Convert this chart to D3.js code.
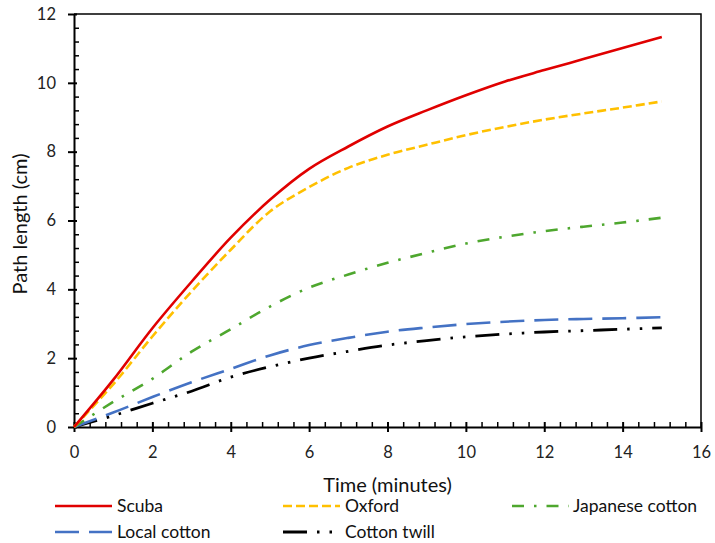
<!DOCTYPE html>
<html>
<head>
<meta charset="utf-8">
<script src="https://cdn.jsdelivr.net/npm/d3@7.9.0/dist/d3.min.js"></script>
<style>
  body { margin: 0; background: #fff; }
  svg { display: block; font-family: Lato, "Open Sans", sans-serif; }
</style>
</head>
<body>
<svg id="chart" width="715" height="543"></svg>
<script>
// time in minutes
const timeMin = [0, 1, 2, 3, 4, 5, 6, 7, 8, 9, 10, 11, 12, 13, 14, 15];

// path length (cm) per fabric
const scuba        = [0, 1.37, 2.87, 4.22, 5.5, 6.6, 7.5, 8.15, 8.73, 9.2, 9.64, 10.04, 10.37, 10.69, 11.01, 11.33];
const oxford       = [0, 1.24, 2.63, 3.94, 5.15, 6.26, 6.97, 7.53, 7.91, 8.2, 8.48, 8.72, 8.93, 9.11, 9.28, 9.46];
const japanese     = [0, 0.73, 1.4, 2.19, 2.84, 3.5, 4.05, 4.43, 4.77, 5.06, 5.33, 5.53, 5.69, 5.82, 5.94, 6.08];
const localCotton  = [0, 0.42, 0.87, 1.3, 1.69, 2.08, 2.38, 2.59, 2.77, 2.89, 2.99, 3.06, 3.11, 3.14, 3.16, 3.19];
const cottonTwill  = [0, 0.33, 0.69, 1.04, 1.45, 1.75, 2.0, 2.2, 2.38, 2.51, 2.62, 2.7, 2.76, 2.8, 2.84, 2.88];

const seriesNames = ['Scuba', 'Oxford', 'Japanese cotton', 'Local cotton', 'Cotton twill'];
const seriesValues = [scuba, oxford, japanese, localCotton, cottonTwill];

const xTicks = [0, 2, 4, 6, 8, 10, 12, 14, 16];
const yTicks = [0, 2, 4, 6, 8, 10, 12];

// look of each series
const styles = {
    'Scuba':           { color: '#e00000', dash: null,                  width: 2.6 },
    'Oxford':          { color: '#ffc000', dash: '9,4',                 width: 2.6 },
    'Japanese cotton': { color: '#4ea72e', dash: '12,10,2.5,10',        width: 2.6 },
    'Local cotton':    { color: '#4472c4', dash: '24,10',               width: 2.6 },
    'Cotton twill':    { color: '#000000', dash: '24,10,2.5,10,2.5,10', width: 2.8 },
};

const svg = d3.select('#chart');

const x = d3.scaleLinear().domain([0, 16]).range([74, 701]);
const y = d3.scaleLinear().domain([0, 12]).range([427, 14]);

// frame (top + right)
svg.append('path')
    .attr('d', `M${x(0)},${y(12)}H${x(16)}V${y(0)}`)
    .attr('fill', 'none')
    .attr('stroke', '#000')
    .attr('stroke-width', 1.5);

// minor ticks every 0.4
const minorX = d3.range(0, 16.01, 0.4).filter(v => Math.abs(v / 2 - Math.round(v / 2)) > 1e-6);
const minorY = d3.range(0, 12.01, 0.4).filter(v => Math.abs(v / 2 - Math.round(v / 2)) > 1e-6);

svg.append('g')
    .attr('transform', `translate(0,${y(0)})`)
    .call(d3.axisBottom(x).tickValues(minorX).tickSize(-5).tickFormat(''))
    .call(g => g.select('.domain').remove())
    .selectAll('line').attr('stroke', '#000').attr('stroke-width', 1.5);

svg.append('g')
    .attr('transform', `translate(${x(0)},0)`)
    .call(d3.axisLeft(y).tickValues(minorY).tickSize(-5).tickFormat(''))
    .call(g => g.select('.domain').remove())
    .selectAll('line').attr('stroke', '#000').attr('stroke-width', 1.5);

// major axes
const xAxis = svg.append('g')
    .attr('transform', `translate(0,${y(0)})`)
    .call(d3.axisBottom(x).tickValues(xTicks).tickSize(5).tickPadding(14).tickSizeOuter(0));
xAxis.selectAll('.tick line').attr('y1', -5).attr('stroke-width', 2);
xAxis.select('.domain').attr('stroke-width', 2);
xAxis.selectAll('text').attr('font-size', 16.5).attr('fill', '#222')
    .attr('font-family', 'Lato, sans-serif');

const yAxis = svg.append('g')
    .attr('transform', `translate(${x(0)},0)`)
    .call(d3.axisLeft(y).tickValues(yTicks).tickSize(6).tickPadding(12).tickSizeOuter(0));
yAxis.selectAll('.tick line').attr('x1', 3).attr('stroke-width', 2);
yAxis.select('.domain').attr('stroke-width', 2);
yAxis.selectAll('text').attr('font-size', 16.5).attr('fill', '#222')
    .attr('font-family', 'Lato, sans-serif');

// axis titles
svg.append('text')
    .attr('x', (x(0) + x(16)) / 2)
    .attr('y', 492)
    .attr('text-anchor', 'middle')
    .attr('font-size', 20)
    .attr('fill', '#111')
    .text('Time (minutes)');

svg.append('text')
    .attr('transform', `translate(20,224) rotate(-90)`)
    .attr('text-anchor', 'middle')
    .attr('dy', '0.35em')
    .attr('font-size', 20)
    .attr('fill', '#111')
    .text('Path length (cm)');

// series lines
const line = d3.line()
    .x((d, i) => x(timeMin[i]))
    .y(d => y(d))
    .curve(d3.curveCatmullRom.alpha(0.5));

// draw bottom series first so red ends on top
const order = [4, 3, 2, 1, 0];
svg.append('g')
    .selectAll('path')
    .data(order)
    .join('path')
    .attr('d', i => line(seriesValues[i]))
    .attr('fill', 'none')
    .attr('stroke', i => styles[seriesNames[i]].color)
    .attr('stroke-width', i => styles[seriesNames[i]].width)
    .attr('stroke-dasharray', i => styles[seriesNames[i]].dash)
    .attr('stroke-linejoin', 'round');

// legend
const legendPos = [
    { lx: 55, ly: 506 },
    { lx: 283, ly: 506 },
    { lx: 512, ly: 506 },
    { lx: 55, ly: 532 },
    { lx: 283, ly: 532 },
];

const legend = svg.append('g')
    .selectAll('g')
    .data(seriesNames)
    .join('g')
    .attr('transform', (d, i) => `translate(${legendPos[i].lx},${legendPos[i].ly})`);

legend.append('line')
    .attr('x1', 0).attr('x2', 57)
    .attr('stroke', d => styles[d].color)
    .attr('stroke-width', d => styles[d].width)
    .attr('stroke-dasharray', d => styles[d].dash);

legend.append('text')
    .attr('x', (d, i) => i === 2 ? 61 : 62)
    .attr('dy', '0.35em')
    .attr('font-size', 17.5)
    .attr('fill', '#111')
    .text(d => d);
</script>
</body>
</html>
